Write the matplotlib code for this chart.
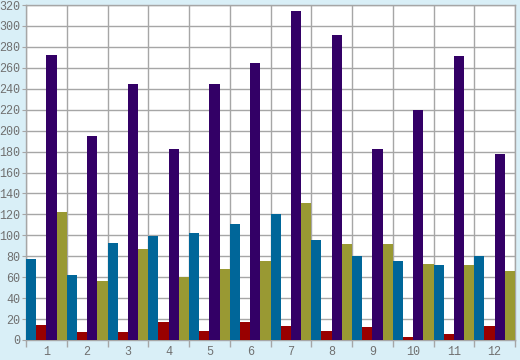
import matplotlib
matplotlib.use("Agg")
import matplotlib.pyplot as plt
import numpy as np

categories = ["1", "2", "3", "4", "5", "6", "7", "8", "9", "10", "11", "12"]
series_blue = [77, 62, 93, 99, 102, 111, 120, 96, 80, 75, 72, 80]
series_red = [14, 8, 8, 17, 9, 17, 13, 9, 12, 3, 6, 13]
series_purple = [272, 195, 245, 182, 245, 265, 314, 291, 182, 220, 271, 178]
series_olive = [122, 56, 87, 60, 68, 75, 131, 92, 92, 73, 72, 66]

colors = ["#006699", "#990000", "#330066", "#999933"]
grid_c = "#a6a6a6"
text_c = "#707070"
bg = "#d9eff7"

fig = plt.figure(figsize=(5.2, 3.6), dpi=100, facecolor=bg)
ax = fig.add_axes([26 / 520, 20 / 360, 489 / 520, 335 / 360])
ax.set_facecolor("white")

n = len(categories)
x = np.arange(n)
w = 0.25
for i, (vals, c) in enumerate(zip([series_blue, series_red, series_purple, series_olive], colors)):
    ax.bar(x - 0.5 + w * (i + 0.5), vals, width=w, color=c, linewidth=0, zorder=3)

ax.set_xlim(-0.5, n - 0.5)
ax.set_ylim(0, 320)
ax.set_yticks(np.arange(0, 321, 20))
ax.set_xticks(x)
ax.set_xticklabels(categories)
ax.set_xticks(np.arange(n + 1) - 0.5, minor=True)

ax.grid(axis="y", color=grid_c, linewidth=1, zorder=1)
ax.grid(axis="x", which="minor", color=grid_c, linewidth=1, zorder=1)
ax.tick_params(axis="x", which="major", length=0, pad=4, labelsize=8.5, labelcolor=text_c)
ax.tick_params(axis="x", which="minor", length=5, color=grid_c, width=1)
ax.tick_params(axis="y", length=3, color=grid_c, pad=1, labelsize=8.5, labelcolor=text_c)
for lab in ax.get_xticklabels() + ax.get_yticklabels():
    lab.set_family("Liberation Mono")
for s in ax.spines.values():
    s.set_color(grid_c)
    s.set_linewidth(1)

fig.savefig("out.png", dpi=100, facecolor=bg)
